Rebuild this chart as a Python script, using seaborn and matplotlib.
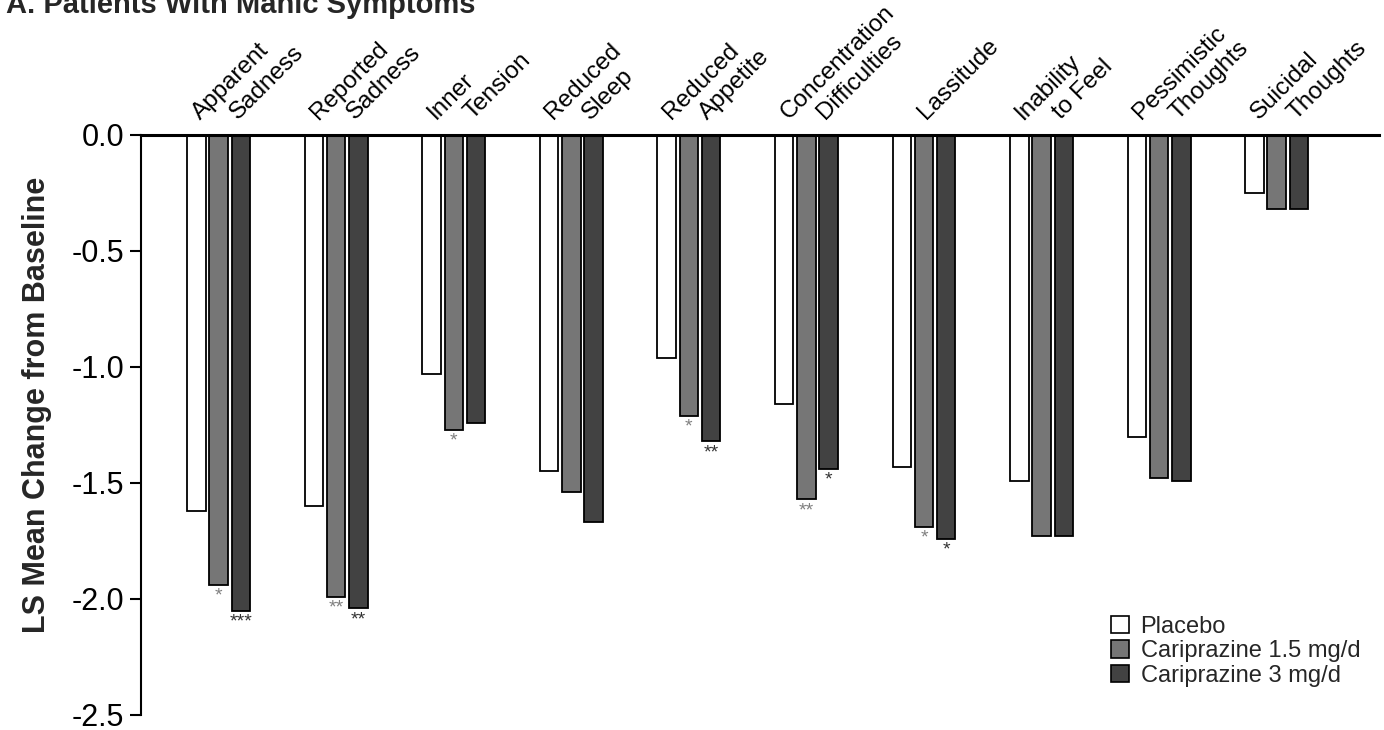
import numpy as np
import pandas as pd
import matplotlib
matplotlib.use("Agg")
import matplotlib.pyplot as plt
import matplotlib.transforms as mtransforms
from matplotlib.patches import Patch
from matplotlib.ticker import FormatStrFormatter
import seaborn as sns

################################
# data:
################################

symptoms = [
    "Apparent Sadness", "Reported Sadness", "Inner Tension", "Reduced Sleep",
    "Reduced Appetite", "Concentration Difficulties", "Lassitude",
    "Inability to Feel", "Pessimistic Thoughts", "Suicidal Thoughts",
]
label_lines = [
    ["Apparent", "Sadness"], ["Reported", "Sadness"], ["Inner", "Tension"],
    ["Reduced", "Sleep"], ["Reduced", "Appetite"], ["Concentration", "Difficulties"],
    ["Lassitude"], ["Inability", "to Feel"], ["Pessimistic", "Thoughts"],
    ["Suicidal", "Thoughts"],
]
groups = ["Placebo", "Cariprazine 1.5 mg/d", "Cariprazine 3 mg/d"]

placebo = [-1.62, -1.60, -1.03, -1.45, -0.96, -1.16, -1.43, -1.49, -1.30, -0.25]
cari_15 = [-1.94, -1.99, -1.27, -1.54, -1.21, -1.57, -1.69, -1.73, -1.48, -0.32]
cari_3 = [-2.05, -2.04, -1.24, -1.67, -1.32, -1.44, -1.74, -1.73, -1.49, -0.32]

stars_15 = ["*", "**", "*", "", "*", "**", "*", "", "", ""]
stars_3 = ["***", "**", "", "", "**", "*", "*", "", "", ""]

yticks = [0.0, -0.5, -1.0, -1.5, -2.0, -2.5]

colors = {"Placebo": "white", "Cariprazine 1.5 mg/d": "#767676", "Cariprazine 3 mg/d": "#424242"}

df = pd.DataFrame({
    "symptom": symptoms * 3,
    "group": np.repeat(groups, len(symptoms)),
    "change": placebo + cari_15 + cari_3,
})

################################
# plot:
################################

sns.set_theme(style="ticks")
plt.rcParams["font.family"] = ["Liberation Sans", "DejaVu Sans"]
plt.rcParams["axes.unicode_minus"] = False

fig = plt.figure(figsize=(13.84, 7.3), dpi=100)
ax = fig.add_axes([141 / 1384, 15 / 730, 1238 / 1384, 580 / 730])

sns.barplot(data=df, x="symptom", y="change", hue="group", order=symptoms,
            hue_order=groups, palette=colors, saturation=1, errorbar=None,
            edgecolor="black", linewidth=1.3, width=0.567, gap=0.17,
            legend=False, ax=ax)

ax.set_xlim(-0.66, 9.87)
ax.set_ylim(-2.5, 0)
ax.set_yticks(yticks)
ax.yaxis.set_major_formatter(FormatStrFormatter("%.1f"))
ax.tick_params(axis="y", direction="out", length=8, width=1.5, labelsize=22, pad=4, colors="black")
ax.tick_params(axis="x", bottom=False, top=False, labelbottom=False)
ax.set_xlabel("")
ax.set_ylabel("LS Mean Change from Baseline", fontsize=22, fontweight="bold")
ax.yaxis.set_label_coords(-0.072, 0.534)

for side in ["right", "bottom"]:
    ax.spines[side].set_visible(False)
ax.spines["top"].set_linewidth(2.2)
ax.spines["left"].set_linewidth(1.5)
ax.spines["top"].set_color("black")
ax.spines["left"].set_color("black")

# significance stars under the active bars
ax.bar_label(ax.containers[1], labels=stars_15, padding=2, fontsize=14, color="#808080")
ax.bar_label(ax.containers[2], labels=stars_3, padding=2, fontsize=14, color="#333333")

# rotated category labels above the plot
base = mtransforms.blended_transform_factory(ax.transData, ax.transAxes)
for i, lines in enumerate(label_lines):
    offs = [2] if len(lines) == 1 else [-18, 19]
    for line, dx in zip(lines, offs):
        tr = mtransforms.offset_copy(base, fig=fig, x=dx, y=15, units="dots")
        ax.text(i, 1, line, transform=tr, rotation=45, rotation_mode="anchor",
                ha="left", va="baseline", fontsize=17.5, color="black")

handles = [Patch(facecolor=colors[g], edgecolor="black", linewidth=1.2) for g in groups]
fig.legend(handles, groups, loc="upper left", bbox_to_anchor=(1111 / 1384, 1 - 616 / 730),
           frameon=False, fontsize=17, handlelength=0.75, handleheight=0.75,
           handletextpad=0.5, labelspacing=0.1, borderpad=0, borderaxespad=0)

fig.text(0.004, 1 - 13 / 730, "A. Patients With Manic Symptoms", fontsize=21,
         fontweight="bold", va="baseline", ha="left")

fig.savefig("out.png", dpi=100)
